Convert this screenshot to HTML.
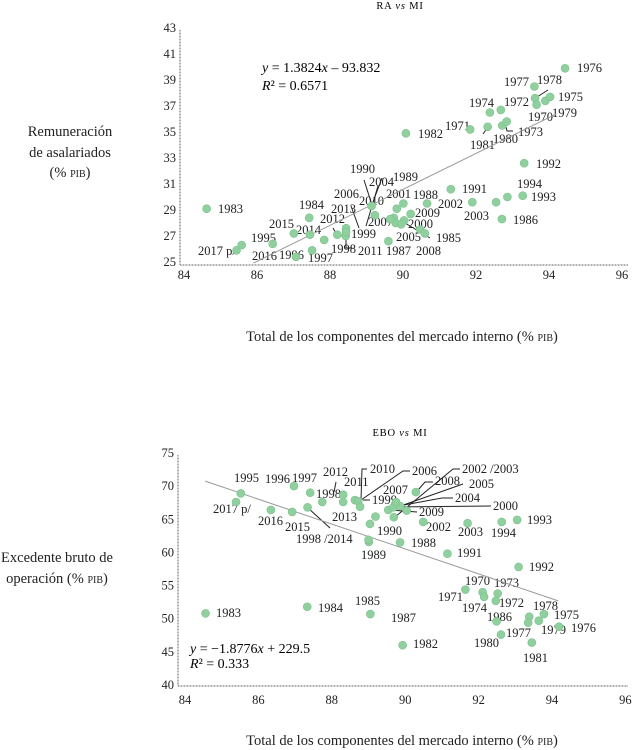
<!DOCTYPE html>
<html><head><meta charset="utf-8">
<style>
html,body{margin:0;padding:0;background:#fff;}
svg{display:block;font-family:"Liberation Serif",serif;}
.t{font-size:12.5px;fill:#222;}
.tk{font-size:12.5px;fill:#222;}
.ttl{font-size:14.5px;fill:#222;}
.sc{font-variant:small-caps;}
.ld{stroke:#222;stroke-width:1;fill:none;}
</style></head><body>
<svg id="c" width="635" height="750" viewBox="0 0 635 750">
<text x="400" y="9" text-anchor="middle" font-size="10.5" letter-spacing="0.8">RA <tspan font-style="italic">vs</tspan> MI</text>
<text x="400" y="436" text-anchor="middle" font-size="10.5" letter-spacing="0.8">EBO <tspan font-style="italic">vs</tspan> MI</text>
<g>
<text class="ttl" x="70" y="136" text-anchor="middle">Remuneración</text>
<text class="ttl" x="70" y="157" text-anchor="middle">de asalariados</text>
<text class="ttl" x="70" y="177" text-anchor="middle">(% <tspan class="sc">pib</tspan>)</text>
</g>
<g>
<text class="ttl" x="57" y="562" text-anchor="middle">Excedente bruto de</text>
<text class="ttl" x="57" y="583" text-anchor="middle">operación (% <tspan class="sc">pib</tspan>)</text>
</g>
<text class="ttl" x="402" y="341" text-anchor="middle">Total de los componentes del mercado interno (% <tspan class="sc">pib</tspan>)</text>
<text class="ttl" x="402" y="745" text-anchor="middle">Total de los componentes del mercado interno (% <tspan class="sc">pib</tspan>)</text>

<g>
<text x="262" y="72" font-size="14"><tspan font-style="italic">y</tspan> = 1.3824<tspan font-style="italic">x</tspan> – 93.832</text>
<text x="262" y="90" font-size="14"><tspan font-style="italic">R</tspan>² = 0.6571</text>
</g>
<g>
<text x="190" y="653" font-size="14"><tspan font-style="italic">y</tspan> = −1.8776<tspan font-style="italic">x</tspan> + 229.5</text>
<text x="190" y="668" font-size="14"><tspan font-style="italic">R</tspan>² = 0.333</text>
</g>

<g>
<polyline class="ld" points="548,90 537,97"/>
<polyline class="ld" points="483,134 488,127"/>
<polyline class="ld" points="505,123 507,131 513,131"/>
<polyline class="ld" points="364,180 372,205"/>
<polyline class="ld" points="382,178 370,210"/>
<polyline class="ld" points="351,206 359,228"/>
<polyline class="ld" points="378,186 366,226"/>
<polyline class="ld" points="400,220 430,238"/>
<polyline class="ld" points="346,237 346,248 352,248"/>
<polyline class="ld" points="333,228 337,235"/>
</g>
<g>
<polyline class="ld" points="367,469 362,469 361,500"/>
<polyline class="ld" points="410,471 403,471 361,500"/>
<polyline class="ld" points="460,469 453,469 395,517"/>
<polyline class="ld" points="463,484 392,509"/>
<polyline class="ld" points="453,498 442,498 393,507"/>
<polyline class="ld" points="491,506 392,507"/>
<polyline class="ld" points="417,512 390,510"/>
<polyline class="ld" points="433,482 425,482 418,490"/>
<polyline class="ld" points="330,528 308,508"/>
<polyline class="ld" points="370,500 363,500"/>
<polyline class="ld" points="336,482 334,492"/>
</g>

<g>
<text class="t" x="577" y="72">1976</text><text class="t" x="504" y="86">1977</text><text class="t" x="537" y="84">1978</text>
<text class="t" x="558" y="101">1975</text><text class="t" x="469" y="107">1974</text><text class="t" x="504" y="106">1972</text>
<text class="t" x="528" y="121">1970</text><text class="t" x="552" y="117">1979</text><text class="t" x="445" y="130">1971</text>
<text class="t" x="418" y="138">1982</text><text class="t" x="518" y="136">1973</text><text class="t" x="470" y="149">1981</text>
<text class="t" x="493" y="143">1980</text><text class="t" x="536" y="168">1992</text><text class="t" x="350" y="173">1990</text>
<text class="t" x="393" y="181">1989</text><text class="t" x="369" y="186">2004</text><text class="t" x="462" y="193">1991</text>
<text class="t" x="517" y="188">1994</text><text class="t" x="334" y="198">2006</text><text class="t" x="386" y="198">2001</text>
<text class="t" x="413" y="199">1988</text><text class="t" x="359" y="205">2010</text><text class="t" x="531" y="201">1993</text>
<text class="t" x="218" y="213">1983</text><text class="t" x="299" y="209">1984</text><text class="t" x="438" y="208">2002</text>
<text class="t" x="331" y="213">2013</text><text class="t" x="415" y="217">2009</text><text class="t" x="464" y="220">2003</text>
<text class="t" x="320" y="223">2012</text><text class="t" x="368" y="226">2007</text><text class="t" x="408" y="228">2000</text>
<text class="t" x="513" y="224">1986</text><text class="t" x="269" y="228">2015</text><text class="t" x="296" y="234">2014</text>
<text class="t" x="251" y="242">1995</text><text class="t" x="351" y="238">1999</text><text class="t" x="396" y="241">2005</text>
<text class="t" x="436" y="242">1985</text><text class="t" x="198" y="255">2017 p/</text><text class="t" x="331" y="253">1998</text>
<text class="t" x="358" y="255">2011</text><text class="t" x="386" y="255">1987</text><text class="t" x="416" y="255">2008</text>
<text class="t" x="252" y="260">2016</text><text class="t" x="279" y="259">1996</text><text class="t" x="308" y="262">1997</text>
</g>
<g>
<text class="t" x="234" y="482">1995</text><text class="t" x="265" y="483">1996</text><text class="t" x="292" y="482">1997</text>
<text class="t" x="323" y="476">2012</text><text class="t" x="344" y="486">2011</text><text class="t" x="370" y="473">2010</text>
<text class="t" x="412" y="475">2006</text><text class="t" x="462" y="473">2002 /2003</text><text class="t" x="435" y="485">2008</text>
<text class="t" x="469" y="488">2005</text><text class="t" x="383" y="494">2007</text><text class="t" x="316" y="498">1998</text>
<text class="t" x="372" y="504">1999</text><text class="t" x="455" y="502">2004</text><text class="t" x="493" y="510">2000</text>
<text class="t" x="213" y="513">2017 p/</text><text class="t" x="419" y="516">2009</text><text class="t" x="332" y="521">2013</text>
<text class="t" x="527" y="524">1993</text><text class="t" x="258" y="525">2016</text><text class="t" x="285" y="531">2015</text>
<text class="t" x="377" y="535">1990</text><text class="t" x="426" y="531">2002</text><text class="t" x="458" y="536">2003</text>
<text class="t" x="491" y="537">1994</text><text class="t" x="296" y="543">1998 /2014</text><text class="t" x="411" y="547">1988</text>
<text class="t" x="361" y="559">1989</text><text class="t" x="457" y="557">1991</text><text class="t" x="529" y="571">1992</text>
<text class="t" x="465" y="585">1970</text><text class="t" x="494" y="587">1973</text><text class="t" x="438" y="601">1971</text>
<text class="t" x="499" y="607">1972</text><text class="t" x="355" y="605">1985</text><text class="t" x="462" y="612">1974</text>
<text class="t" x="533" y="610">1978</text><text class="t" x="216" y="617">1983</text><text class="t" x="318" y="612">1984</text>
<text class="t" x="487" y="621">1986</text><text class="t" x="554" y="619">1975</text><text class="t" x="391" y="622">1987</text>
<text class="t" x="506" y="637">1977</text><text class="t" x="541" y="634">1979</text><text class="t" x="571" y="632">1976</text>
<text class="t" x="474" y="647">1980</text><text class="t" x="413" y="648">1982</text><text class="t" x="523" y="662">1981</text>
</g>
<g id="plots"></g>
</svg>
<script>
// Shared x tick values
const xTicks = [84, 86, 88, 90, 92, 94, 96];
// Top chart (RA vs MI)
const topYTicks = [25, 27, 29, 31, 33, 35, 37, 39, 41, 43];
const topX = [94.44,93.6,93.62,93.66,93.9,94.03,92.38,92.68,91.84,92.32,92.72,92.84,90.08,93.32,91.31,92.86,93.28,91.9,92.71,84.62,87.43,87.01,87.45,86.43,85.44,85.58,87.07,87.51,87.84,88.2,88.44,88.43,89.6,90.21,90.66,90.01,89.83,89.75,89.8,90.03,90.47,89.14,89.23,88.44,89.65,90.6,89.95,92.55];
const topY = [39.9,38.5,37.6,37.1,37.4,37.7,36.5,36.7,35.2,35.4,35.5,35.8,34.9,32.6,30.6,30.0,30.1,29.6,28.3,29.1,28.4,27.2,27.1,26.4,25.9,26.3,25.4,25.9,26.7,27.1,27.6,27.0,26.6,28.7,29.5,29.5,29.1,28.4,28.0,28.2,27.5,29.3,28.6,27.3,28.3,27.2,27.9,29.6];
const topTrend = {slope:1.3824, intercept:-93.832, from:85.9, to:94.2};
// Bottom chart (EBO vs MI)
const botYTicks = [40, 45, 50, 55, 60, 65, 70, 75];
const botX = [85.52,85.39,86.34,86.92,87.34,86.97,87.41,87.74,88.31,88.31,88.63,88.72,88.77,89.04,89.19,89.01,90.29,89.54,89.68,89.86,89.69,90.04,90.49,91.7,92.63,93.05,89.86,91.15,93.09,91.64,92.11,92.15,92.52,92.47,92.49,92.61,93.38,93.35,93.64,93.78,94.19,93.45,89.93,84.56,87.33,89.05,89.0,89.75];
const botY = [68.9,67.6,66.4,66.1,66.8,70.0,69.0,67.6,68.7,67.6,67.9,67.7,66.9,64.3,65.4,61.6,69.1,66.4,66.8,67.0,65.3,66.3,64.6,64.4,64.6,64.9,61.5,59.8,57.8,54.4,54.0,53.3,53.8,52.7,49.6,47.6,50.3,49.4,49.7,50.7,48.8,46.4,46.0,50.8,51.8,50.7,61.9,67.6];
const botTrend = {slope:-1.8776, intercept:229.5, from:84.55, to:94.17};

const NS = "http://www.w3.org/2000/svg";
const plots = document.getElementById('plots');
function mk(tag, attrs, parent){const e=document.createElementNS(NS,tag);for(const k in attrs)e.setAttribute(k,attrs[k]);parent.appendChild(e);return e;}

function drawChart(cfg){
  const xs = v => cfg.x0 + (v - 84) * cfg.xs;
  const ys = v => cfg.yBase - (v - cfg.yMin) * cfg.ys;
  const g = mk('g', {}, plots);
  
  
  const ya = mk('line', {x1:cfg.axX, y1:ys(cfg.yTicks[cfg.yTicks.length-1])+2, x2:cfg.axX, y2:cfg.axY, stroke:'#999', 'stroke-width':1.5, 'stroke-dasharray':'1 0.5'}, g);
  
  
  const xa = mk('line', {x1:cfg.axX, y1:cfg.axY, x2:628, y2:cfg.axY, stroke:'#999', 'stroke-width':1.5, 'stroke-dasharray':'1 0.5'}, g);
  
  
  cfg.yTicks.forEach(v => {
    const t = mk('text', {x:cfg.axX-4, y:ys(v)+4, 'text-anchor':'end', class:'tk'}, g);
    t.textContent = v;
    
    
  });
  xTicks.forEach(v => {
    const t = mk('text', {x:xs(v), y:cfg.axY+cfg.tickDy, 'text-anchor':'middle', class:'tk'}, g);
    t.textContent = v;
    
    
  });
  const tr = cfg.trend;
  const tl = mk('line', {x1:xs(tr.from), y1:ys(tr.slope*tr.from+tr.intercept), x2:xs(tr.to), y2:ys(tr.slope*tr.to+tr.intercept), stroke:'#999', 'stroke-width':1}, g);
  
  
  cfg.px.forEach((v, i) => {
    const c = mk('circle', {cx:xs(v), cy:ys(cfg.py[i]), r:4, fill:'#8fd09e', stroke:'#7cc18c', 'stroke-width':0.6}, g);
    
    
  });
}
drawChart({name:'top-chart', x0:184, xs:36.5, yBase:262, yMin:25, ys:13, axX:180, axY:265, tickDy:14, yTicks:topYTicks, px:topX, py:topY, trend:topTrend});
drawChart({name:'bottom-chart', x0:185, xs:36.7, yBase:685, yMin:40, ys:6.63, axX:178, axY:686, tickDy:18, yTicks:botYTicks, px:botX, py:botY, trend:botTrend});
</script>
</body></html>
